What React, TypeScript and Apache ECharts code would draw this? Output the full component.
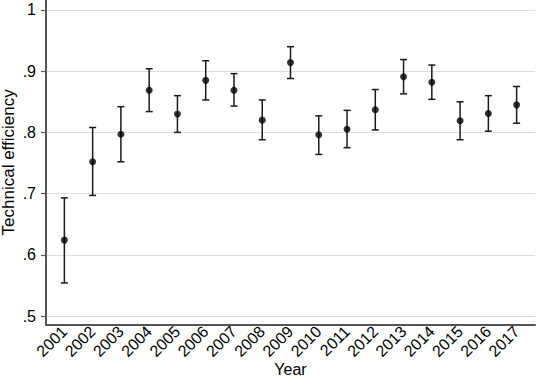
import React, { useEffect, useRef } from "react";
import * as echarts from "echarts";

const years = [2001, 2002, 2003, 2004, 2005, 2006, 2007, 2008, 2009, 2010, 2011, 2012, 2013, 2014, 2015, 2016, 2017];
const means = [0.624, 0.752, 0.797, 0.869, 0.830, 0.885, 0.869, 0.820, 0.914, 0.796, 0.805, 0.837, 0.891, 0.882, 0.819, 0.831, 0.845];
const lower = [0.554, 0.697, 0.752, 0.834, 0.800, 0.853, 0.843, 0.788, 0.888, 0.764, 0.775, 0.804, 0.863, 0.854, 0.788, 0.802, 0.815];
const upper = [0.693, 0.808, 0.842, 0.904, 0.860, 0.917, 0.896, 0.853, 0.940, 0.827, 0.836, 0.870, 0.919, 0.910, 0.850, 0.860, 0.875];
const yTicks = [0.5, 0.6, 0.7, 0.8, 0.9, 1];
const yTickLabels = [".5", ".6", ".7", ".8", ".9", "1"];

const FONT = "'Liberation Sans', Arial, sans-serif";

export default function App() {
  const ref = useRef<HTMLDivElement>(null);
  useEffect(() => {
    if (!ref.current) return;
    const chart = echarts.init(ref.current, undefined, { renderer: "svg" });
    const barData = years.map((y, i) => [y, lower[i], upper[i]]);
    const pointData = years.map((y, i) => [y, means[i]]);
    chart.setOption({
      animation: false,
      backgroundColor: "#ffffff",
      textStyle: { fontFamily: FONT },
      grid: { left: 46, right: 1, top: 0, bottom: 54.3, containLabel: false, outerBoundsMode: "none" },
      xAxis: {
        type: "value",
        min: 2000.35,
        max: 2017.65,
        name: "Year",
        nameLocation: "middle",
        nameGap: 37,
        nameMoveOverlap: false,
        nameTextStyle: { fontSize: 16, color: "#000", fontFamily: FONT },
        axisLine: { show: true, onZero: false, lineStyle: { color: "#555555", width: 2 } },
        axisTick: { show: false, customValues: years },
        splitLine: { show: false },
        axisLabel: {
          customValues: years,
          rotate: 45,
          margin: 4,
          fontSize: 16,
          color: "#000",
          fontFamily: FONT,
          formatter: (v: number) => String(Math.round(v)),
        },
      },
      yAxis: {
        type: "value",
        min: 0.4858,
        max: 1.0163,
        name: "Technical efficiency",
        nameLocation: "middle",
        nameGap: 29,
        nameMoveOverlap: false,
        nameTextStyle: { fontSize: 17, lineHeight: 17, color: "#000", fontFamily: FONT },
        axisLine: { show: true, onZero: false, lineStyle: { color: "#555555", width: 2 } },
        axisTick: { show: true, length: 5, customValues: yTicks, lineStyle: { color: "#555555", width: 1.2 } },
        splitLine: { show: true, lineStyle: { color: "#dedede", width: 1 } },
        axisLabel: {
          customValues: yTicks,
          margin: 10,
          fontSize: 16,
          color: "#000",
          fontFamily: FONT,
          formatter: (v: number) => {
            const idx = yTicks.findIndex((t) => Math.abs(t - v) < 1e-6);
            return idx >= 0 ? yTickLabels[idx] : "";
          },
        },
      },
      series: [
        {
          type: "custom",
          data: barData,
          encode: { x: 0, y: [1, 2] },
          renderItem: (params: any, api: any) => {
            const x = api.value(0);
            const lo = api.value(1);
            const hi = api.value(2);
            const pHi = api.coord([x, hi]);
            const pLo = api.coord([x, lo]);
            const hw = 3.5;
            const style = { stroke: "#1a1a1a", lineWidth: 1.5 };
            return {
              type: "group",
              children: [
                { type: "line", shape: { x1: pHi[0], y1: pHi[1], x2: pLo[0], y2: pLo[1] }, style },
                { type: "line", shape: { x1: pHi[0] - hw, y1: pHi[1], x2: pHi[0] + hw, y2: pHi[1] }, style },
                { type: "line", shape: { x1: pLo[0] - hw, y1: pLo[1], x2: pLo[0] + hw, y2: pLo[1] }, style },
              ],
            };
          },
          z: 2,
        },
        {
          type: "scatter",
          data: pointData,
          symbol: "circle",
          symbolSize: 7,
          itemStyle: { color: "#000000" },
          z: 3,
        },
      ],
    });
    return () => chart.dispose();
  }, []);
  return (
    <div
      ref={ref}
      style={{ position: "fixed", left: 0, top: 0, width: 536, height: 379, background: "#fff" }}
    />
  );
}
